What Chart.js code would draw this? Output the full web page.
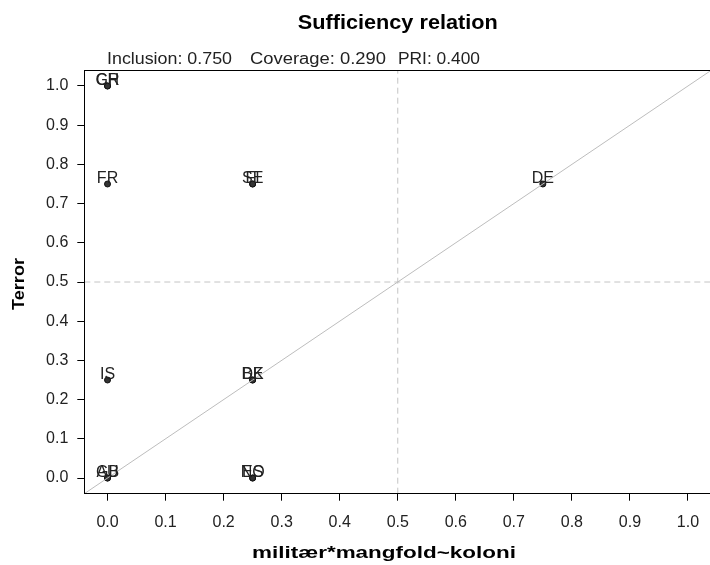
<!DOCTYPE html>
<html>
<head>
<meta charset="utf-8">
<script src="https://cdn.jsdelivr.net/npm/chart.js@4"></script>
<style>
  html, body { margin:0; padding:0; background:#fff; overflow:hidden; }
  #wrap { width:710px; height:565px; overflow:hidden; position:relative; }
  canvas { position:absolute; left:0; top:0; }
</style>
</head>
<body>
<div id="wrap"><canvas id="xy" width="720" height="565"></canvas></div>
<script>
// ---------- Data ----------

const caseNames = ["CH","GR","FR","IS","GB","AU","SE","FI","DK","BE","ES","NO","DE"];
const xValues   = [0,   0,   0,   0,   0,   0,   0.25,0.25,0.25,0.25,0.25,0.25,0.75];
const yValues   = [1,   1,   0.75,0.25,0,   0,   0.75,0.75,0.25,0.25,0,   0,   0.75];

const tickValues = [0,0.1,0.2,0.3,0.4,0.5,0.6,0.7,0.8,0.9,1.0];
const axisMin = -0.04;
const axisMax = 1.04;

const titleText = "Sufficiency relation";
const statsParts = ["Inclusion: 0.750", "Coverage: 0.290", "PRI: 0.400"];
const statsX = [107, 250, 398];
const statsW = [125, 136, 82];
const xTitle = "militær*mangfold~koloni";
const yTitle = "Terror";

const FONT = "'Liberation Sans', Arial, sans-serif";

// ---------- Datasets ----------

const points = xValues.map((x,i)=>({x:x, y:yValues[i]}));

const refStyle = {
    type:'line', showLine:true, pointRadius:0, borderWidth:1, fill:false
};

// draws text squeezed/stretched to a given width
function fitText(c, txt, x, y, w){
    const m = c.measureText(txt).width;
    c.save();
    c.translate(x, y);
    c.scale(w / m, 1);
    c.fillText(txt, 0, 0);
    c.restore();
}

// ---------- Decorations ----------

const decor = {
    id:'decor',
    afterDatasetsDraw(chart){
        const c = chart.ctx;
        const xs = chart.scales.x, ys = chart.scales.y;
        c.save();
        c.font = "16px " + FONT;
        c.fillStyle = "#222";
        c.textAlign = "center";
        c.textBaseline = "middle";
        caseNames.forEach((n,i)=>{
            c.fillText(n, xs.getPixelForValue(xValues[i]), ys.getPixelForValue(yValues[i]) - 5);
        });
        c.restore();
    },
    afterDraw(chart){
        const c = chart.ctx, a = chart.chartArea;
        c.save();
        c.strokeStyle = "#000";
        c.lineWidth = 1;
        c.strokeRect(Math.round(a.left)+0.5, Math.round(a.top)+0.5,
                     Math.round(a.right-a.left), Math.round(a.bottom-a.top));
        const cx = (a.left + a.right) / 2;
        c.fillStyle = "#000";
        c.textAlign = "center";
        c.textBaseline = "middle";
        c.font = "bold 20px " + FONT;
        fitText(c, titleText, cx, 23, 200);
        c.font = "bold 17px " + FONT;
        fitText(c, xTitle, 384, 553, 264);
        c.save();
        c.translate(19, 284);
        c.rotate(-Math.PI/2);
        c.font = "bold 17px " + FONT;
        fitText(c, yTitle, 0, 0, 52);
        c.restore();
        c.font = "16px " + FONT;
        c.fillStyle = "#222";
        c.textAlign = "left";
        statsParts.forEach((t,i)=>fitText(c, t, statsX[i], 60, statsW[i]));
        c.restore();
    }
};

// ---------- Chart ----------

function axis(isX){
    return {
        type:'linear',
        min:axisMin,
        max:axisMax,
        afterBuildTicks:(s)=>{ s.ticks = tickValues.map(v=>({value:v})); },
        afterFit:(s)=>{ if(isX){ s.height = 565 - 493.7; } else { s.width = 84.3; } },
        border:{display:false},
        grid:{
            drawOnChartArea:false,
            drawTicks:true,
            tickLength:7,
            tickColor:"#000",
            color:"#000"
        },
        ticks:{
            autoSkip:false,
            maxRotation:0,
            padding:isX ? 12 : 9,
            color:"#222",
            font:{family:FONT, size:16},
            callback:(v)=>Number(v).toFixed(1)
        }
    };
}

new Chart(document.getElementById('xy'),{
    type:'scatter',
    data:{
        datasets:[
            Object.assign({
                data:[{x:axisMin,y:axisMin},{x:axisMax,y:axisMax}],
                borderColor:"#bdbdbd"
            }, refStyle),
            Object.assign({
                data:[{x:0.5,y:axisMin},{x:0.5,y:axisMax}],
                borderColor:"#c4c4c4",
                borderDash:[6,4]
            }, refStyle),
            Object.assign({
                data:[{x:axisMin,y:0.5},{x:axisMax,y:0.5}],
                borderColor:"#c4c4c4",
                borderDash:[6,4]
            }, refStyle),
            {
                data:points,
                pointRadius:3,
                pointBackgroundColor:"#333",
                pointBorderColor:"#111",
                pointBorderWidth:1
            }
        ]
    },
    options:{
        responsive:false,
        animation:false,
        layout:{padding:{top:70.3, right:8.8, left:0, bottom:0}},
        plugins:{legend:{display:false}, tooltip:{enabled:false}, title:{display:false}},
        scales:{ x:axis(true), y:axis(false) }
    },
    plugins:[decor]
});
</script>
</body>
</html>
